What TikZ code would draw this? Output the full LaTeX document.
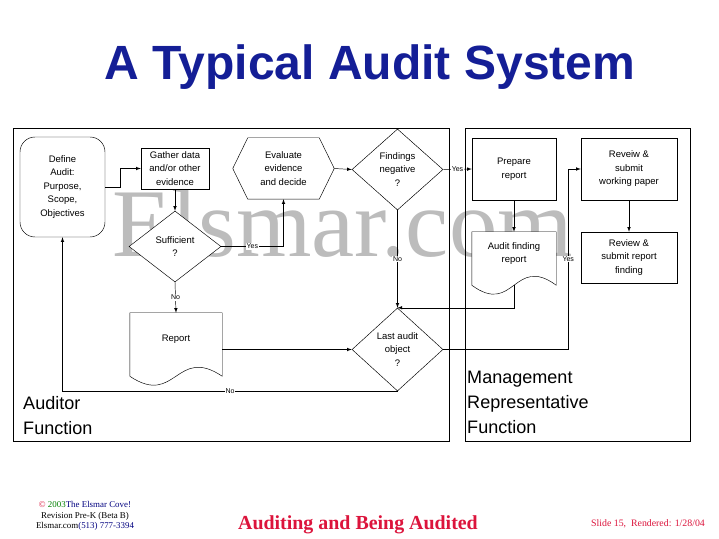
\documentclass[tikz,border=0pt]{standalone}
\usepackage{fontspec}
\setmainfont{Liberation Serif}
\setsansfont{Liberation Sans}
\usetikzlibrary{shapes,arrows,positioning,calc,backgrounds}

\newcommand{\pxu}{0.03cm}
\definecolor{titleblue}{RGB}{20,30,150}
\definecolor{slidered}{RGB}{220,20,60}
\definecolor{markgray}{RGB}{188,188,188}
\definecolor{covegreen}{RGB}{0,128,0}
\definecolor{coveblue}{RGB}{0,0,128}

\begin{document}
\begin{tikzpicture}[
  x=\pxu, y=-\pxu,
  line width=0.7pt,
  boxtext/.style={
    align=center, inner sep=0pt,
    font=\sffamily\fontsize{8.1}{11.5}\selectfont
  },
  box/.style={boxtext, draw, rectangle, fill=white},
  decision/.style={boxtext, draw, diamond, fill=white},
  docbox/.style={boxtext, rectangle},
  lbl/.style={font=\sffamily\fontsize{6}{6}\selectfont, fill=white, inner sep=0.6pt},
  fnlabel/.style={align=left, inner sep=0pt, font=\sffamily\fontsize{15.4}{21.3}\selectfont},
  arrow/.style={->, >=latex}
]
\useasboundingbox (0,0) rectangle (719,539);

\begin{pgfonlayer}{background}
  \fill[white] (0,0) rectangle (719,539);
  % Watermark
  \node[anchor=base west, inner sep=0pt, text=markgray,
    font=\fontsize{82.8}{82.8}\selectfont] (mark) at (112,257) {Elsmar.com};
\end{pgfonlayer}

% Title
\node[anchor=base, text=titleblue, font=\sffamily\bfseries\fontsize{41}{41}\selectfont]
  (title) at (370,80) {A Typical Audit System};

% Function frames
\draw (13,128) rectangle (449,441);
\draw (465,128) rectangle (690,441);
\node[fnlabel, anchor=north west] (audlbl) at (23,396) {Auditor\\Function};
\node[fnlabel, anchor=north west] (mgtlbl) at (467,371) {Management\\Representative\\Function};

% Auditor function
\node[box, rounded corners=0.45cm, minimum width=85*\pxu, minimum height=100*\pxu]
  (def) at (62.5,187) {Define\\Audit:\\Purpose,\\Scope,\\Objectives};
\node[box, minimum width=68*\pxu, minimum height=41*\pxu]
  (gath) at (175,168.5) {Gather data\\and/or other\\evidence};
\node[decision, minimum width=92*\pxu, minimum height=71*\pxu]
  (suff) at (175,246.5) {Sufficient\\?};
\node[docbox, minimum width=92*\pxu, minimum height=53*\pxu]
  (rep) at (176,339.5) {Report};
\node[docbox, minimum width=101*\pxu, minimum height=61*\pxu]
  (eval) at (283.5,168.5) {Evaluate\\evidence\\and decide};
\node[decision, minimum width=91*\pxu, minimum height=81*\pxu]
  (find) at (397.5,169.5) {Findings\\negative\\?};
\node[decision, minimum width=91*\pxu, minimum height=83*\pxu]
  (last) at (397.5,349.5) {Last audit\\object\\?};

% Management representative function
\node[box, minimum width=84*\pxu, minimum height=62*\pxu]
  (prep) at (514,169) {Prepare\\report};
\node[docbox, minimum width=84*\pxu, minimum height=43*\pxu]
  (afr) at (514,253.5) {Audit finding\\report};
\node[box, minimum width=96*\pxu, minimum height=62*\pxu]
  (rev1) at (629,169) {Reveiw \&\\submit\\working paper};
\node[box, minimum width=96*\pxu, minimum height=51*\pxu]
  (rev2) at (629,257.5) {Review \&\\submit report\\finding};

% Outlines of the document and hexagon shapes
\begin{pgfonlayer}{background}
  \foreach \d in {rep,afr}
    \draw[fill=white] (\d.north west) -- (\d.north east) -- ($(\d.south east)+(0,10)$)
      .. controls ($(\d.south)+(0,-21)$) and ($(\d.south)+(0,41)$) .. ($(\d.south west)+(0,10)$) -- cycle;
  \draw[fill=white] (eval.west) -- ($(eval.north west)+(15,0)$) -- ($(eval.north east)+(-15,0)$)
    -- (eval.east) -- ($(eval.south east)+(-15,0)$) -- ($(eval.south west)+(15,0)$) -- cycle;
\end{pgfonlayer}

% Connectors
\draw[arrow] (def.east) -- ++(15,0) |- (gath.west);
\draw[arrow] (gath.south) -- (suff.north);
\draw[arrow] (suff.south) -- (rep.north) node[lbl,midway] {No};
\draw[arrow] (suff.east) -| (eval.south) node[lbl,pos=0.25] {Yes};
\draw[arrow] (eval.east) -- (find.west);
\draw[arrow] (find.east) -- (prep.west) node[lbl,midway] {Yes};
\draw[arrow] (find.south) -- (last.north) node[lbl,midway] {No};
\draw[arrow] (rep.east |- last.west) -- (last.west);
\draw[arrow] (prep.south) -- (afr.north);
\draw[arrow] ($(afr.south)+(0,10)$) |- (last.north);
\draw[arrow] (last.south) -| (def.south) node[lbl,pos=0.25] {No};
\draw[arrow] (last.east) -- ++(125,0) |- (rev1.west) node[lbl,pos=0.25] {Yes};
\draw[arrow] (rev1.south) -- (rev2.north);

% Footer
\node[align=center, font=\fontsize{7.6}{9}\selectfont] (cove) at (85,516)
  {{\color{slidered}©} {\color{covegreen}2003}{\color{coveblue}The Elsmar Cove!}\\
   Revision Pre-K (Beta B)\\
   Elsmar.com{\color{coveblue}(513) 777-3394}};
\node[anchor=base, text=slidered, font=\bfseries\fontsize{17}{17}\selectfont]
  (foot) at (358,529) {Auditing and Being Audited};
\node[anchor=base, text=slidered, font=\fontsize{8.4}{8.4}\selectfont]
  (slide) at (648,526) {Slide 15,\ \ Rendered: 1/28/04};

\end{tikzpicture}
\end{document}
